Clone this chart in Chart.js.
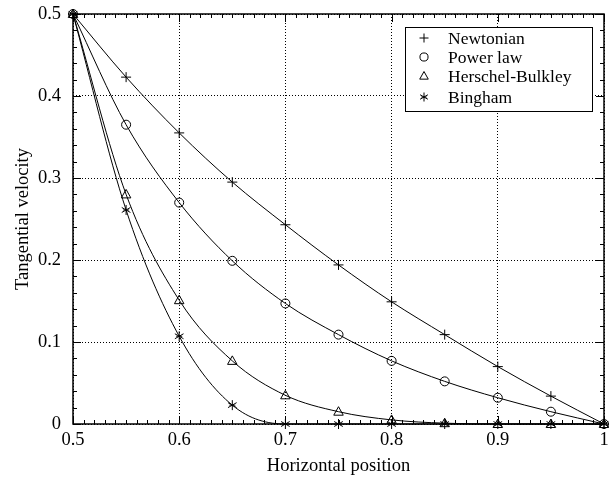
<!DOCTYPE html>
<html>
<head>
<meta charset="utf-8">
<script src="https://cdn.jsdelivr.net/npm/chart.js@4/dist/chart.umd.min.js"></script>
<style>
  html, body { margin: 0; padding: 0; background: #fff; }
  #wrap { width: 609px; height: 482px; }
</style>
</head>
<body>
<div id="wrap"><canvas id="c" width="609" height="482"></canvas></div>
<script>
// Datos
const xPos = [0.5, 0.55, 0.6, 0.65, 0.7, 0.75, 0.8, 0.85, 0.9, 0.95, 1.0];
const newtonian = [0.5, 0.423, 0.355, 0.295, 0.243, 0.194, 0.149, 0.109, 0.070, 0.034, 0];
const powerLaw = [0.5, 0.365, 0.270, 0.199, 0.147, 0.109, 0.077, 0.052, 0.032, 0.015, 0];
const herschel = [0.5, 0.280, 0.151, 0.077, 0.035, 0.015, 0.005, 0.001, 0, 0, 0];
const bingham = [0.5, 0.261, 0.107, 0.023, 0, 0, 0, 0, 0, 0, 0];
const seriesNames = ['Newtonian', 'Power law', 'Herschel-Bulkley', 'Bingham'];
const xTicks = [0.5, 0.6, 0.7, 0.8, 0.9, 1];
const yTicks = [0, 0.1, 0.2, 0.3, 0.4, 0.5];

const FONT = '"Liberation Serif", "Times New Roman", serif';
const styles = ['cross', 'circle', 'triangle', 'star'];

function toPoints(ys) {
    return ys.map((y, i) => ({ x: xPos[i], y: y }));
}

function drawMarker(ctx, style, x, y, r) {
    ctx.save();
    ctx.strokeStyle = '#000';
    ctx.lineWidth = 1;
    ctx.beginPath();
    if (style === 'cross') {
        ctx.moveTo(x - r, y); ctx.lineTo(x + r, y);
        ctx.moveTo(x, y - r); ctx.lineTo(x, y + r);
    } else if (style === 'circle') {
        ctx.arc(x, y, r * 0.9, 0, Math.PI * 2);
    } else if (style === 'triangle') {
        ctx.moveTo(x, y - r);
        ctx.lineTo(x + r * 0.95, y + r * 0.7);
        ctx.lineTo(x - r * 0.95, y + r * 0.7);
        ctx.closePath();
    } else {
        for (let k = 0; k < 3; k++) {
            const a = Math.PI / 2 + k * Math.PI / 3;
            ctx.moveTo(x + r * Math.cos(a), y + r * Math.sin(a));
            ctx.lineTo(x - r * Math.cos(a), y - r * Math.sin(a));
        }
        ctx.moveTo(x - r * 0.6, y); ctx.lineTo(x + r * 0.6, y);
    }
    ctx.stroke();
    ctx.restore();
}

// Marco, marcas menores y leyenda
const framePlugin = {
    id: 'frame',
    afterDatasetsDraw(chart) {
        const ctx = chart.ctx;
        const a = chart.chartArea;
        const xs = chart.scales.x, ys = chart.scales.y;
        ctx.save();
        ctx.strokeStyle = '#000';
        ctx.lineWidth = 1;
        ctx.beginPath();
        // marcas en x cada 0.01
        for (let i = 0; i <= 50; i++) {
            const v = 0.5 + i * 0.01;
            const px = Math.round(xs.getPixelForValue(v)) + 0.5;
            const len = (i % 10 === 0) ? 8 : 4;
            ctx.moveTo(px, a.bottom); ctx.lineTo(px, a.bottom - len);
            ctx.moveTo(px, a.top); ctx.lineTo(px, a.top + len);
        }
        // marcas en y cada 0.02
        for (let i = 0; i <= 25; i++) {
            const v = i * 0.02;
            const py = Math.round(ys.getPixelForValue(v)) + 0.5;
            const len = (i % 5 === 0) ? 8 : 4;
            ctx.moveTo(a.left, py); ctx.lineTo(a.left + len, py);
            ctx.moveTo(a.right, py); ctx.lineTo(a.right - len, py);
        }
        ctx.stroke();
        ctx.lineWidth = 1.5;
        ctx.strokeRect(a.left, a.top, a.right - a.left, a.bottom - a.top);

        // leyenda
        const bx = 405, by = 27, bw = 187, bh = 84;
        ctx.fillStyle = '#fff';
        ctx.fillRect(bx, by, bw, bh);
        ctx.lineWidth = 1;
        ctx.strokeRect(bx + 0.5, by + 0.5, bw, bh);
        ctx.font = '17.5px ' + FONT;
        ctx.fillStyle = '#000';
        ctx.textBaseline = 'middle';
        const rows = [38, 57, 76, 97];
        seriesNames.forEach((name, i) => {
            drawMarker(ctx, styles[i], 424, rows[i], 4.5);
            ctx.fillText(name, 448, rows[i] + 1);
        });
        ctx.restore();
    }
};

const allSeries = [newtonian, powerLaw, herschel, bingham];

new Chart(document.getElementById('c'), {
    type: 'line',
    data: {
        datasets: allSeries.map((s, i) => ({
            label: seriesNames[i],
            data: toPoints(s),
            borderColor: '#000',
            borderWidth: 1,
            backgroundColor: '#fff',
            pointStyle: false,
            cubicInterpolationMode: 'monotone',
            fill: false,
            clip: false
        }))
    },
    options: {
        responsive: false,
        animation: false,
        layout: { padding: { top: 14, right: 3, left: 0, bottom: 0 } },
        plugins: {
            legend: { display: false },
            tooltip: { enabled: false }
        },
        scales: {
            x: {
                type: 'linear',
                min: 0.5,
                max: 1,
                afterBuildTicks: s => { s.ticks = xTicks.map(v => ({ value: v })); },
                afterFit: s => {
                    s.height = 58;
                    s.paddingLeft = 0;
                    s.paddingRight = 0;
                },
                ticks: {
                    color: '#000',
                    font: { family: FONT, size: 18.5 },
                    padding: 5,
                    maxRotation: 0,
                    callback: v => String(+v.toFixed(1))
                },
                grid: {
                    color: '#000',
                    lineWidth: 1,
                    drawTicks: false
                },
                border: { display: false, dash: [1, 2] },
                title: {
                    display: true,
                    text: 'Horizontal position',
                    color: '#000',
                    font: { family: FONT, size: 18.5 },
                    padding: { top: 0, bottom: 5 }
                }
            },
            y: {
                type: 'linear',
                min: 0,
                max: 0.5,
                afterBuildTicks: s => { s.ticks = yTicks.map(v => ({ value: v })); },
                afterFit: s => {
                    s.width = 73;
                    s.paddingTop = 0;
                    s.paddingBottom = 0;
                },
                ticks: {
                    color: '#000',
                    font: { family: FONT, size: 18.5 },
                    padding: 12,
                    callback: v => String(+v.toFixed(1))
                },
                grid: {
                    color: '#000',
                    lineWidth: 1,
                    drawTicks: false
                },
                border: { display: false, dash: [1, 2] },
                title: {
                    display: true,
                    text: 'Tangential velocity',
                    color: '#000',
                    font: { family: FONT, size: 18.5 },
                    padding: { top: 12, bottom: 2 }
                }
            }
        }
    },
    plugins: [framePlugin, {
        id: 'markers',
        afterDatasetsDraw(chart) {
            chart.data.datasets.forEach((ds, i) => {
                const meta = chart.getDatasetMeta(i);
                meta.data.forEach(pt => drawMarker(chart.ctx, styles[i], pt.x, pt.y, 5));
            });
        }
    }]
});
</script>
</body>
</html>
